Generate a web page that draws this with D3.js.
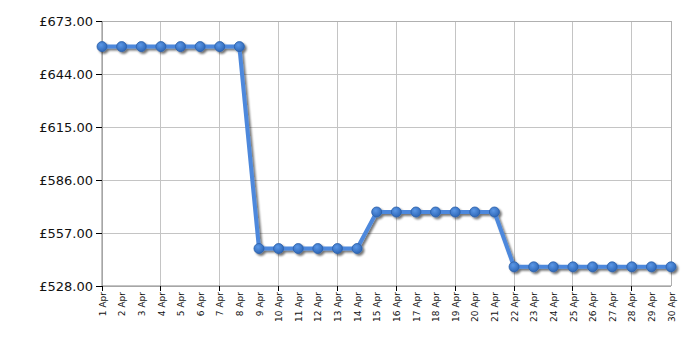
<!DOCTYPE html>
<html><head><meta charset="utf-8">
<script src="https://cdn.jsdelivr.net/npm/d3@7"></script>
<style>body{margin:0;background:#fff;} svg{display:block;}</style>
</head><body>
<svg id="c" width="700" height="350"></svg>
<script>
const days = d3.range(1, 31).map(d => d + " Apr");
const prices = [659,659,659,659,659,659,659,659,
  548.5,548.5,548.5,548.5,548.5,548.5,
  568.5,568.5,568.5,568.5,568.5,568.5,568.5,
  538.5,538.5,538.5,538.5,538.5,538.5,538.5,538.5,538.5];
const yTicks = [528, 557, 586, 615, 644, 673];

const svg = d3.select("#c");
const L = 102, R = 671, T = 21, B = 286;
const x = d3.scalePoint().domain(days).range([L, R]);
const y = d3.scaleLinear().domain([528, 673]).range([B, T]);

const defs = svg.append("defs");
const f = defs.append("filter").attr("id","sh").attr("x","-10%").attr("y","-10%").attr("width","130%").attr("height","130%");
f.append("feGaussianBlur").attr("in","SourceAlpha").attr("stdDeviation",1.2);
f.append("feOffset").attr("dx",2).attr("dy",2).attr("result","b");
f.append("feComponentTransfer").append("feFuncA").attr("type","linear").attr("slope",0.55);
const m = f.append("feMerge"); m.append("feMergeNode"); m.append("feMergeNode").attr("in","SourceGraphic");
const g = defs.append("radialGradient").attr("id","pg").attr("cx","40%").attr("cy","35%").attr("r","65%");
g.append("stop").attr("offset","0%").attr("stop-color","#5b97e6");
g.append("stop").attr("offset","100%").attr("stop-color","#2f68b8");

// grid
const grid = svg.append("g");
yTicks.forEach(t => grid.append("line").attr("x1",L).attr("x2",R).attr("y1",y(t)).attr("y2",y(t))
  .attr("stroke","#c4c4c4").attr("stroke-width",1).attr("shape-rendering","crispEdges"));
days.forEach((d,i) => { if (i % 3 === 0) grid.append("line").attr("x1",x(d)).attr("x2",x(d)).attr("y1",T).attr("y2",B)
  .attr("stroke","#c4c4c4").attr("stroke-width",1).attr("shape-rendering","crispEdges"); });
grid.append("line").attr("x1",R).attr("x2",R).attr("y1",T).attr("y2",B).attr("stroke","#b0b0b0").attr("shape-rendering","crispEdges");
grid.append("line").attr("x1",L).attr("x2",R).attr("y1",T).attr("y2",T).attr("stroke","#b0b0b0").attr("shape-rendering","crispEdges");

// y axis
const ya = svg.append("g").attr("transform",`translate(${L},0)`)
  .call(d3.axisLeft(y).tickValues(yTicks).tickSize(6).tickPadding(3).tickFormat(v => "£" + d3.format(".2f")(v)));
ya.select(".domain").attr("stroke","#888").attr("d",`M0,${T}V${B}`);
ya.selectAll(".tick line").attr("stroke","#000");
ya.selectAll("text").attr("font-family","DejaVu Sans, Verdana, sans-serif").attr("font-size","13px").attr("fill","#111");

// x axis
const xa = svg.append("g").attr("transform",`translate(0,${B})`)
  .call(d3.axisBottom(x).tickSize(0).tickPadding(0));
xa.select(".domain").attr("stroke","#888").attr("d",`M${L},0H${R}`);
days.forEach((d,i)=>{ if(i%3===0) xa.append("line").attr("x1",x(d)).attr("x2",x(d)).attr("y1",0).attr("y2",5).attr("stroke","#000").attr("shape-rendering","crispEdges"); });
xa.selectAll(".tick text").attr("transform","rotate(-90)").attr("text-anchor","end")
  .attr("x",-6).attr("y",0).attr("dy","0.35em").attr("font-family","DejaVu Sans, Verdana, sans-serif").attr("font-size","9px").attr("fill","#111");

// line
const line = d3.line().x((v,i)=>x(days[i])).y(v=>y(v));
const lg = svg.append("g").attr("filter","url(#sh)");
lg.append("path").datum(prices).attr("d",line).attr("fill","none").attr("stroke","#4d88dc").attr("stroke-width",4).attr("stroke-linejoin","round");
lg.selectAll("circle").data(prices).join("circle").attr("cx",(v,i)=>x(days[i])).attr("cy",v=>y(v)).attr("r",5)
  .attr("fill","url(#pg)").attr("stroke","#2a5ea8").attr("stroke-width",0.8);
</script>
</body></html>
